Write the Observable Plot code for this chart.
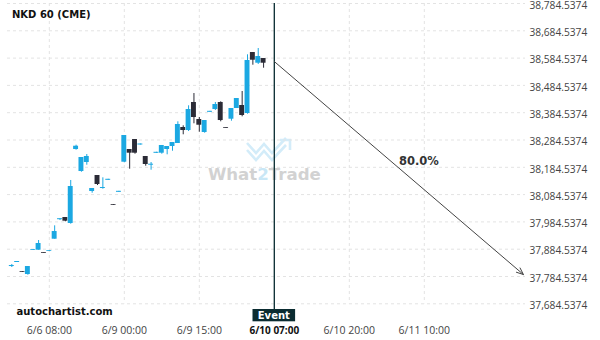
<!DOCTYPE html>
<html><head><meta charset="utf-8">
<script src="https://cdn.jsdelivr.net/npm/d3@7"></script>
<script src="https://cdn.jsdelivr.net/npm/@observablehq/plot@0.6"></script>
<style>html,body{margin:0;padding:0;background:#fff;} svg{display:block}</style>
</head><body><div id="chart"></div>
<script>
const title = "NKD 60 (CME)";
const source = "autochartist.com";
const opens = [37821.1,37835.8,37802.8,37791.8,37880.5,37880.9,37872.4,37876.8,37921.1,37992.6,38000.6,37978.7,
  38249.7,38169.1,38202.1,38095.9,38154.5,38106.9,38136.9,38048.2,38092.9,38203.2,38249.7,38286.3,
  38266.2,38224.1,38192.2,38235.8,38236.2,38249.7,38260.7,38271.7,38330.3,38319.3,38421.9,38359.6,
  38312.0,38386.0,38396.2,38421.9,38330.3,38360.7,38399.9,38410.9,38381.6,38605.0,38565.8,38583.0];
const closes = [37824.8,37839.5,37799.9,37821.1,37883.4,37905.4,37869.5,37879.7,37949.3,37996.2,37987.1,38114.2,
  38261.8,38220.4,38224.1,38106.9,38121.5,38110.5,38140.6,38045.3,38096.6,38301.0,38236.2,38236.2,
  38269.9,38194.8,38195.9,38239.5,38264.4,38260.7,38275.4,38341.3,38319.3,38396.2,38366.9,38338.7,
  38355.9,38389.6,38414.6,38355.9,38327.4,38399.9,38436.5,38374.3,38575.7,38576.8,38590.4,38565.8];
const highs = [37828.5,37839.5,37802.8,37821.1,37883.4,37916.4,37872.4,37879.7,37970.2,37996.2,38000.6,38136.2,
  38265.5,38220.4,38231.4,38106.9,38154.5,38146.0,38140.6,38048.2,38096.6,38301.0,38249.7,38286.3,
  38269.9,38224.1,38202.1,38239.5,38264.4,38260.7,38275.4,38351.2,38336.5,38409.8,38454.8,38366.9,
  38355.9,38389.6,38421.9,38424.4,38330.3,38399.9,38436.5,38462.2,38596.6,38605.0,38619.7,38583.0];
const lows = [37817.5,37835.8,37799.9,37789.3,37880.5,37880.9,37869.5,37876.8,37921.1,37989.6,37984.9,37976.1,
  38247.2,38166.6,38192.2,38089.6,38117.8,38104.3,38136.9,38045.3,38092.9,38201.0,38177.6,38232.5,
  38266.2,38188.5,38173.9,38235.8,38232.5,38230.3,38243.5,38271.7,38303.6,38315.6,38343.9,38313.1,
  38309.4,38386.0,38392.6,38351.2,38327.4,38353.4,38399.9,38369.5,38379.0,38558.5,38561.1,38547.5];
const yTicks = [37684.5374,37784.5374,37884.5374,37984.5374,38084.5374,38184.5374,
  38284.5374,38384.5374,38484.5374,38584.5374,38684.5374,38784.5374];
const xTickIdx = [7,21,35,49,63,77];
const xTickLabels = ["6/6 08:00","6/9 00:00","6/9 15:00","6/10 07:00","6/10 20:00","6/11 10:00"];
const eventIdx = 49;
const eventLabel = "Event";
const forecast = [{x1: 49, y1: 38572.0, x2: 95.5, y2: 37791.8}];
const probability = [{x: 76.0, y: 38207.6, label: "80.0%"}];

const UP = "#1ba8e2", DOWN = "#2b2b36";
const candles = opens.map((o, i) => ({i, open: o, close: closes[i], high: highs[i], low: lows[i], up: closes[i] >= o}));
const xt = xTickIdx.map((d, k) => ({x: d, label: xTickLabels[k]}));
const fmt = d3.format(",.4f");
const grid = {stroke: "#e3e3e3", strokeDasharray: "3,3", strokeWidth: 1};

const chart = Plot.plot({
  width: 600, height: 340,
  marginLeft: 7, marginRight: 75, marginTop: 3, marginBottom: 36.7,
  style: {background: "#fff", fontFamily: "Open Sans", overflow: "visible"},
  x: {domain: [0, 77], range: [11.3, 423.8], axis: null},
  y: {domain: [37684.5374, 38784.5374], axis: null},
  marks: [
    Plot.ruleY(yTicks, {y: d => d, ...grid}),
    Plot.ruleX(xTickIdx.filter(d => d !== eventIdx), {x: d => d, ...grid}),
    Plot.text(yTicks, {y: d => d, frameAnchor: "right", textAnchor: "start", dx: 4, dy: 2,
      text: d => fmt(d), fill: "#444", fontSize: 10.2}),
    Plot.text(xt.filter(d => d.x !== eventIdx), {x: "x", text: "label", frameAnchor: "bottom", dy: 27,
      lineAnchor: "middle", fill: "#444", fontSize: 10.5}),
    Plot.text(xt.filter(d => d.x === eventIdx), {x: "x", text: "label", frameAnchor: "bottom", dy: 27,
      lineAnchor: "middle", fill: "#111", fontSize: 10, fontWeight: "bold", style: "letter-spacing:-0.5px"}),
    Plot.ruleX(candles, {x: "i", y1: "low", y2: "high", stroke: d => d.up ? UP : DOWN, strokeWidth: 1}),
    Plot.rect(candles, {x1: d => d.i - 0.46, x2: d => d.i + 0.46, y1: "open", y2: "close",
      fill: d => d.up ? UP : DOWN}),
    Plot.ruleX([eventIdx], {x: d => d, stroke: "#062a2f", strokeWidth: 1.3, insetBottom: -6}),
    Plot.arrow(forecast, {x1: "x1", y1: "y1", x2: "x2", y2: "y2", stroke: "#444", strokeWidth: 1,
      headLength: 11, headAngle: 45}),
    Plot.text(probability, {x: "x", y: "y", text: "label", fill: "#333", fontSize: 11.5,
      fontWeight: "bold", fontFamily: "DejaVu Sans"}),
    Plot.text([title], {text: d => d, frameAnchor: "top-left", textAnchor: "start", dx: 4.5, dy: 11.7,
      lineAnchor: "middle", fill: "#111", fontSize: 10, fontWeight: "bold", fontFamily: "DejaVu Sans"}),
    Plot.text([source], {text: d => d, frameAnchor: "bottom-left", textAnchor: "start", dx: 9, dy: 8.3,
      lineAnchor: "middle", fill: "#111", fontSize: 10, fontWeight: "bold", fontFamily: "DejaVu Sans"})
  ]
});

const svg = d3.select(chart);
// watermark (decoration), behind the marks
const wm = svg.insert("g", ":first-child");
wm.append("path").attr("d", "M247,150 L256,160 L264,151 L272,160 L286,145")
  .attr("fill", "none").attr("stroke", "#d3ecf9").attr("stroke-width", 2.6);
wm.append("path").attr("d", "M247,143 L256,153 L264,144 L272,153 L286,138")
  .attr("fill", "none").attr("stroke", "#d3ecf9").attr("stroke-width", 2.6);
wm.append("path").attr("d", "M280,140 L290,140 L290,150")
  .attr("fill", "none").attr("stroke", "#d3ecf9").attr("stroke-width", 2.6);
const wt = wm.append("text").attr("x", 208).attr("y", 179.5).attr("text-anchor", "start")
  .attr("font-family", "DejaVu Sans").attr("font-weight", "bold").attr("font-size", 16.6).attr("fill", "#d2d2d2");
wt.append("tspan").text("What");
wt.append("tspan").attr("fill", "#c9e7f6").text("2");
wt.append("tspan").text("Trade");
// event label box
const ex = chart.scale("x").apply(eventIdx);
const eg = svg.append("g");
eg.append("rect").attr("x", ex - 21.3).attr("y", 309).attr("width", 42.6).attr("height", 12.3).attr("fill", "#0b2c31");
eg.append("text").attr("x", ex).attr("y", 318.6).attr("text-anchor", "middle")
  .attr("font-family", "DejaVu Sans").attr("font-weight", "bold").attr("font-size", 10).attr("fill", "#fff").text(eventLabel);

document.getElementById("chart").appendChild(chart);
</script>
</body></html>
